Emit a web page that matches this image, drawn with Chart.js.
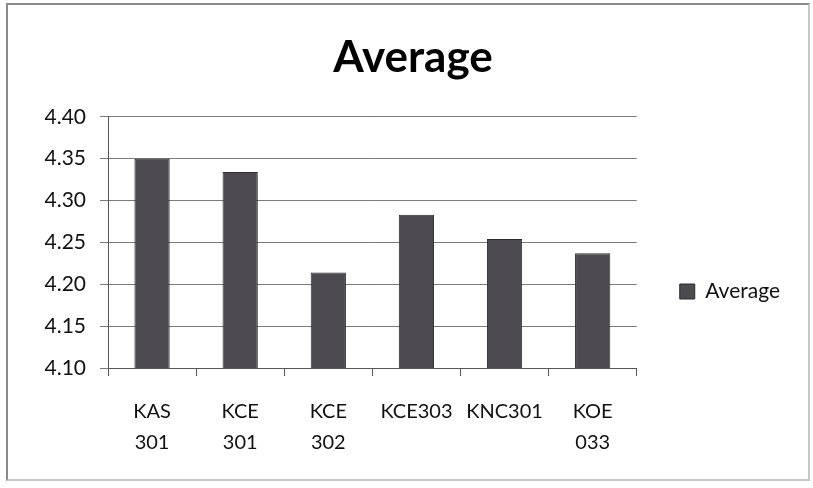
<!DOCTYPE html>
<html>
<head>
<meta charset="utf-8">
<script src="https://cdn.jsdelivr.net/npm/chart.js@4.4.0/dist/chart.umd.min.js"></script>
<style>
  html, body { margin: 0; padding: 0; background: #fff; }
  #wrap { position: relative; width: 813px; height: 488px; }
  #frame { position: absolute; left: 6px; top: 3px; width: 800px; height: 474px; border: 2px solid #8a8a8a; border-right-color: #c8c8c8; border-bottom-color: #c8c8c8; pointer-events: none; }
  canvas { position: absolute; left: 0; top: 0; }
</style>
</head>
<body>
<div id="wrap">
  <canvas id="grafico" width="813" height="488"></canvas>
  <div id="frame"></div>
</div>
<script>
// dados
const categorias = [['KAS', '301'], ['KCE', '301'], ['KCE', '302'], 'KCE303', 'KNC301', ['KOE', '033']];
const medias = [4.35, 4.334, 4.214, 4.283, 4.254, 4.237];
const rotulosY = ['4.10', '4.15', '4.20', '4.25', '4.30', '4.35', '4.40'];

// desloca a legenda para baixo, como no original
const moverLegenda = {
    id: 'moverLegenda',
    afterLayout(chart) {
        chart.legend.top += 32;
        chart.legend.bottom += 32;
    }
};

new Chart(document.getElementById('grafico').getContext('2d'), {
    type: 'bar',
    data: {
        labels: categorias,
        datasets: [{
            label: 'Average',
            data: medias,
            backgroundColor: '#4d4b50',
            borderColor: '#2c2b2e',
            borderWidth: 1,
            barPercentage: 0.4,
            categoryPercentage: 1
        }]
    },
    options: {
        responsive: false,
        animation: false,
        layout: {
            padding: { top: 31, left: 36, right: 23, bottom: 0 }
        },
        plugins: {
            title: {
                display: true,
                text: 'Average',
                color: '#000',
                font: { family: 'Lato', size: 44, weight: 'bold' },
                padding: { top: 0, bottom: 33 }
            },
            legend: {
                position: 'right',
                labels: {
                    color: '#111',
                    font: { family: 'Lato', size: 21 },
                    boxWidth: 15,
                    boxHeight: 15,
                    padding: 43
                }
            },
            tooltip: { enabled: false }
        },
        scales: {
            x: {
                afterFit: s => { s.height = 120; },
                grid: {
                    drawOnChartArea: false,
                    tickLength: 8,
                    color: '#555'
                },
                border: { color: '#555' },
                ticks: {
                    color: '#111',
                    font: { family: 'Lato', size: 20, lineHeight: 1.55 },
                    padding: 20,
                    maxRotation: 0,
                    autoSkip: false
                }
            },
            y: {
                min: 4.1,
                max: 4.4,
                afterFit: s => { s.width = 72; },
                grid: {
                    color: '#7a7a7a',
                    tickLength: 8
                },
                border: { color: '#555' },
                ticks: {
                    stepSize: 0.05,
                    color: '#111',
                    font: { family: 'Lato', size: 21 },
                    padding: 14,
                    callback: (v, i) => rotulosY[i]
                }
            }
        }
    },
    plugins: [moverLegenda]
});
</script>
</body>
</html>
